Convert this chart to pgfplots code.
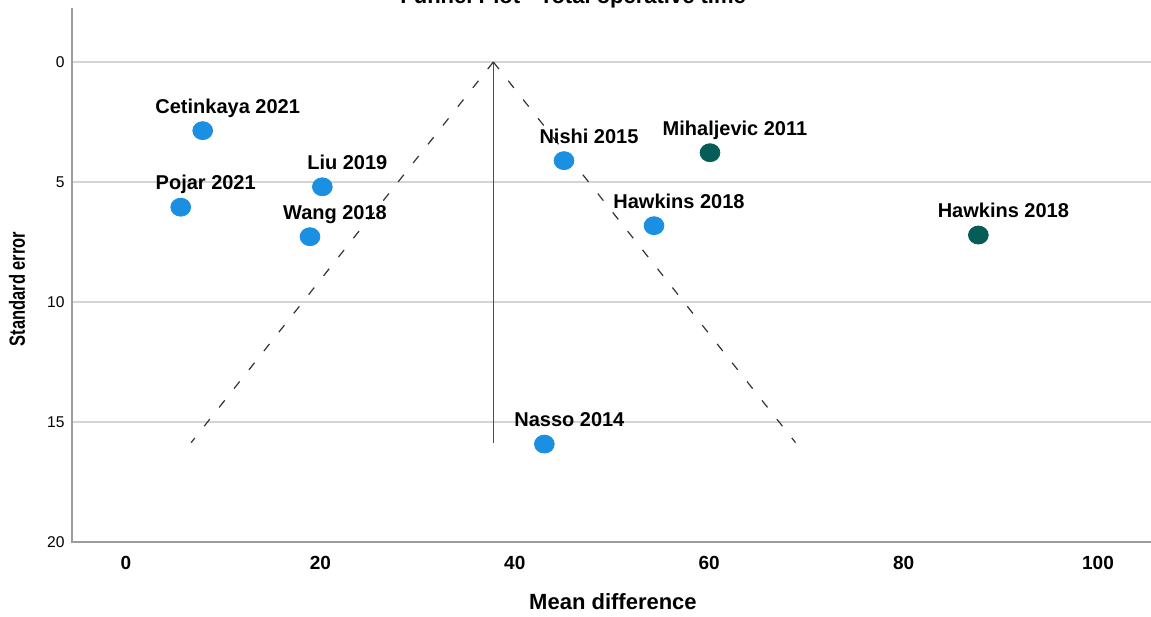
\documentclass[border=0pt]{standalone}
\usepackage{fontspec}
\setmainfont{Liberation Sans}
\usepackage{pgfplots}
\pgfplotsset{compat=1.18}

\definecolor{ptblue}{HTML}{1B8FE2}
\definecolor{ptteal}{HTML}{065C57}
\definecolor{gridgray}{HTML}{D4D4D4}
\definecolor{axgray}{HTML}{9C9C9C}

\pgfplotsset{studies/.style={
    only marks, mark=*, mark size=4.5pt,
    nodes near coords,
    point meta=explicit symbolic,
    every node near coord/.append style={anchor=base, xshift=12.5pt, yshift=8.75pt,
        font=\bfseries\fontsize{10}{12}\selectfont, text=black, inner sep=0pt},
}}

\begin{document}
\begin{tikzpicture}
\begin{axis}[
    scale only axis,
    width=539.5pt, height=267pt,
    xmin=-5.56, xmax=105.45,
    ymin=-2.25, ymax=20,
    y dir=reverse,
    clip=false,
    axis line style={draw=none},
    major tick length=0pt,
    xtick={0,20,40,60,80,100},
    ytick={0,5,10,15,20},
    ymajorgrids=true,
    grid style={gridgray, line width=1pt},
    /pgf/number format/assume math mode=true,
    xticklabel style={font=\bfseries\fontsize{9.5}{11}\selectfont, inner sep=0pt, anchor=north, yshift=-7pt},
    yticklabel style={font=\fontsize{7.8}{9}\selectfont, inner sep=0pt, anchor=east, xshift=-3.5pt},
]
% axis lines
\draw[axgray, line width=1pt] (axis cs:-5.56,-2.25) -- (axis cs:-5.56,20) -- (axis cs:105.45,20);

% funnel: pooled estimate and 95% limits
\addplot[no marks, color=black!70, line width=0.75pt] coordinates {(37.79,0) (37.79,15.86)};
\addplot[no marks, color=black!80, line width=0.6pt, dash pattern=on 4.5pt off 7.5pt] coordinates {(37.79,0) (6.70,15.86)};
\addplot[no marks, color=black!80, line width=0.6pt, dash pattern=on 4.5pt off 7.5pt] coordinates {(37.79,0) (68.88,15.86)};

% studies
\addplot[studies, color=ptblue, mark options={xscale=1.1, draw=ptblue, fill=ptblue}] coordinates {
    (7.89,2.86) [Cetinkaya 2021]
    (5.63,6.05) [Pojar 2021]
    (20.20,5.20) [Liu 2019]
    (18.93,7.28) [Wang 2018]
    (45.06,4.11) [Nishi 2015]
    (54.32,6.82) [Hawkins 2018]
    (43.04,15.92) [Nasso 2014]
};
\addplot[studies, color=ptteal, mark options={xscale=1.1, draw=ptteal, fill=ptteal}] coordinates {
    (60.08,3.78) [Mihaljevic 2011]
    (87.69,7.21) [Hawkins 2018]
};

% titles
\node[anchor=base, font=\bfseries\fontsize{11}{13}\selectfont, inner sep=0pt] at (axis cs:46.0,-2.44) {Funnel Plot - Total operative time};
\node[anchor=base, font=\bfseries\fontsize{11}{13}\selectfont, inner sep=0pt] at (axis cs:50.1,22.83) {Mean difference};
\node[rotate=90, anchor=center, inner sep=0pt] at (axis cs:-11.21,9.46) {\scalebox{0.75}[1]{\bfseries\fontsize{11}{13}\selectfont Standard error}};

\coordinate (bbl) at (axis cs:-12.963,23.083);
\coordinate (btr) at (axis cs:105.45,-2.583);
\end{axis}
\pgfresetboundingbox
\path[use as bounding box] (bbl) rectangle (btr);
\end{tikzpicture}
\end{document}
